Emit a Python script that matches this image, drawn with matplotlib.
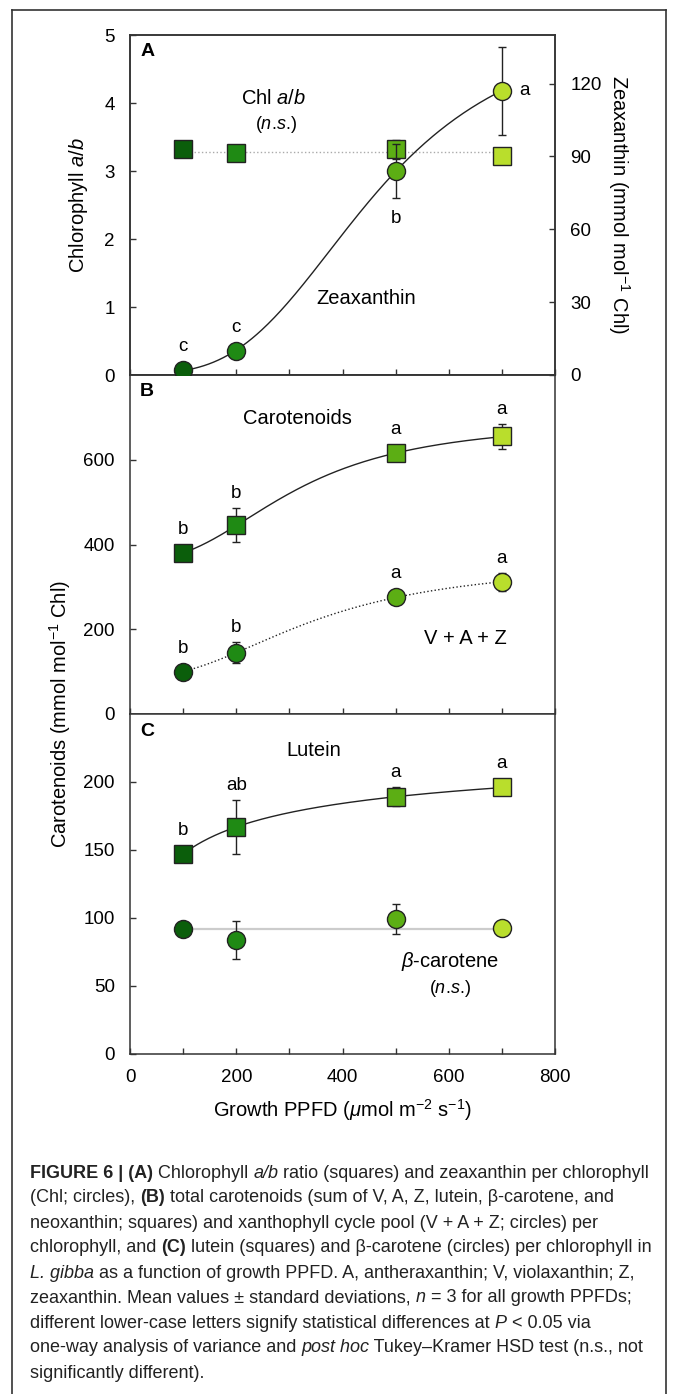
import numpy as np
import matplotlib
matplotlib.use('Agg')
import matplotlib.pyplot as plt
from matplotlib.lines import Line2D

FONT = 'Liberation Sans'
plt.rcParams['font.family'] = [FONT, 'DejaVu Sans']
plt.rcParams['mathtext.fontset'] = 'custom'
plt.rcParams['mathtext.rm'] = FONT
plt.rcParams['mathtext.it'] = FONT + ':italic'
plt.rcParams['mathtext.bf'] = FONT + ':bold'

# data
ppfd = [100, 200, 500, 700]
colors = ['#0b5e0b', '#1f8a14', '#5cae14', '#b9de2c']

chl_ab = [3.33, 3.27, 3.32, 3.22]
chl_ab_sd = [0.04, 0.04, 0.14, 0.04]
zea = [2, 10, 84, 117]
zea_sd = [1, 1.5, 11, 18]
zea_letters = ['c', 'c', 'b', 'a']

carot = [380, 445, 615, 655]
carot_sd = [8, 40, 10, 30]
carot_letters = ['b', 'b', 'a', 'a']
vaz = [100, 145, 275, 312]
vaz_sd = [6, 24, 8, 21]
vaz_letters = ['b', 'b', 'a', 'a']

lutein = [147, 167, 189, 196]
lutein_sd = [2, 20, 7, 2]
lutein_letters = ['b', 'ab', 'a', 'a']
bcar = [92, 84, 99, 93]
bcar_sd = [2, 14, 11, 2]


def hill_fit(x, y, xs):
    # 4-parameter Hill curve, grid search over shape, linear solve for the rest
    x = np.asarray(x, float)
    y = np.asarray(y, float)
    best = None
    for b in np.linspace(0.5, 8, 76):
        for c in np.linspace(50, 3000, 296):
            f = 1 / (1 + (c / x) ** b)
            A = np.column_stack([np.ones_like(x), f])
            coef = np.linalg.lstsq(A, y, rcond=None)[0]
            err = np.sum((A @ coef - y) ** 2)
            if best is None or err < best[0]:
                best = (err, b, c, coef)
    _, b, c, coef = best
    return coef[0] + coef[1] / (1 + (c / xs) ** b)


fig = plt.figure(figsize=(6.76, 13.94), dpi=100)
FW, FH = 676, 1394

def px_axes(x0, y0, x1, y1):
    return fig.add_axes([x0 / FW, 1 - y1 / FH, (x1 - x0) / FW, (y1 - y0) / FH])

axA = px_axes(130, 35, 555, 375)
axB = px_axes(130, 375, 555, 714)
axC = px_axes(130, 714, 555, 1054)

xs = np.linspace(100, 700, 200)
MS = 13
FS = 13.5
NS = r'($\mathit{n}$.$\mathit{s}$.)'

for ax in (axA, axB, axC):
    ax.set_xlim(0, 800)
    ax.set_xticks(range(0, 801, 100))
    ax.tick_params(axis='both', direction='in', length=4, width=1, labelsize=FS,
                   pad=11, color='#333333')
    for s in ax.spines.values():
        s.set_color('#333333')
        s.set_linewidth(1.1)
axA.set_xticklabels([])
axB.set_xticklabels([])
axC.set_xticklabels([str(v) if v % 200 == 0 else '' for v in range(0, 801, 100)])

axA.set_ylim(0, 5)
axA.set_yticks(range(0, 6))
axB.set_ylim(0, 800)
axB.set_yticks([0, 200, 400, 600])
axC.set_ylim(0, 250)
axC.set_yticks([0, 50, 100, 150, 200])

axZ = axA.twinx()
axZ.set_ylim(0, 140)
axZ.set_yticks([0, 30, 60, 90, 120])
axZ.tick_params(axis='y', direction='in', length=4, width=1, labelsize=FS, pad=11,
                color='#333333')
for s in axZ.spines.values():
    s.set_color('#333333')
    s.set_linewidth(1.1)


def points(ax, y, sd, marker, z=3):
    for xi, yi, ei, c in zip(ppfd, y, sd, colors):
        ax.errorbar(xi, yi, yerr=ei, fmt='none', ecolor='#222222', elinewidth=1,
                    capsize=3, capthick=1, zorder=z)
        ax.plot(xi, yi, marker=marker, ms=MS, mfc=c, mec='#222222', mew=1,
                ls='none', zorder=z + 1)


def letters(ax, y, sd, labs, where=None):
    for i, (xi, yi, ei, lab) in enumerate(zip(ppfd, y, sd, labs)):
        w = where[i] if where else 'above'
        py = ax.transData.transform((xi, yi))[1]
        pe = ax.transData.transform((xi, yi + ei))[1] - py
        if w == 'above':
            off = (max(pe, 9) + 10) * 72 / 100
            ax.annotate(lab, (xi, yi), xytext=(0, off), textcoords='offset points',
                        ha='center', va='baseline', fontsize=FS)
        elif w == 'below':
            off = -(max(pe, 9) + 25) * 72 / 100
            ax.annotate(lab, (xi, yi), xytext=(0, off), textcoords='offset points',
                        ha='center', va='baseline', fontsize=FS)
        else:
            ax.annotate(lab, (xi, yi), xytext=(16, 0), textcoords='offset points',
                        ha='center', va='center', fontsize=FS)


# panel A
axA.plot([ppfd[0], ppfd[-1]], [np.mean(chl_ab)] * 2, ls=':', lw=1, color='#aaaaaa', zorder=1)
points(axA, chl_ab, chl_ab_sd, 's')
axZ.plot(xs, hill_fit(ppfd, zea, xs), color='#222222', lw=1, zorder=2)
points(axZ, zea, zea_sd, 'o')
letters(axZ, zea, zea_sd, zea_letters, ['above', 'above', 'below', 'right'])
axA.text(271, 4.07, r'Chl $\mathit{a/b}$', ha='center', va='center', fontsize=14.5)
axA.text(274, 3.68, NS, ha='center', va='center', fontsize=13)
axA.text(444, 1.13, 'Zeaxanthin', ha='center', va='center', fontsize=14.5)
axA.set_ylabel(r'Chlorophyll $\mathit{a/b}$', fontsize=14.5, labelpad=10)
axZ.set_ylabel(r'Zeaxanthin (mmol mol$^{-1}$ Chl)', fontsize=14.5, rotation=270,
               labelpad=22)

# panel B
axB.plot(xs, hill_fit(ppfd, carot, xs), color='#222222', lw=1, zorder=2)
points(axB, carot, carot_sd, 's')
letters(axB, carot, carot_sd, carot_letters)
axB.plot(xs, hill_fit(ppfd, vaz, xs), color='#222222', lw=1, ls=':', zorder=2)
points(axB, vaz, vaz_sd, 'o')
letters(axB, vaz, vaz_sd, vaz_letters)
axB.text(315, 698, 'Carotenoids', ha='center', va='center', fontsize=14.5)
axB.text(631, 179, 'V + A + Z', ha='center', va='center', fontsize=14.5)

# panel C
axC.plot(xs, hill_fit(ppfd, lutein, xs), color='#222222', lw=1, zorder=2)
points(axC, lutein, lutein_sd, 's')
letters(axC, lutein, lutein_sd, lutein_letters)
axC.plot([ppfd[0], ppfd[-1]], [np.mean(bcar)] * 2, ls='-', lw=1.6, color='#cccccc', zorder=1)
points(axC, bcar, bcar_sd, 'o')
axC.text(346, 223, 'Lutein', ha='center', va='center', fontsize=14.5)
axC.text(603, 68, r'$\mathit{\beta}$-carotene', ha='center', va='center', fontsize=14.5)
axC.text(603, 48, NS, ha='center', va='center', fontsize=13)
axC.set_xlabel(r'Growth PPFD ($\mathit{\mu}$mol m$^{-2}$ s$^{-1}$)', fontsize=14.5, labelpad=8)

for ax, lab in zip((axA, axB, axC), 'ABC'):
    ax.text(0.024, 0.95, lab, transform=ax.transAxes, ha='left', va='center',
            fontsize=14, fontweight='bold')

fig.text(60 / FW, 1 - 714 / FH, r'Carotenoids (mmol mol$^{-1}$ Chl)', rotation=90,
         ha='center', va='center', fontsize=14.5)

# outer frame (left, top, right)
for xx, yy in (([12, 12], [0, 1384]), ([12, 666], [1384, 1384]), ([666, 666], [1384, 0])):
    fig.add_artist(Line2D([v / FW for v in xx], [v / FH for v in yy],
                          color='#333333', lw=1.2))

# caption
caption = [
    [('FIGURE 6 | (A)', 'b'), (' Chlorophyll ', 'n'), ('a/b', 'i'),
     (' ratio (squares) and zeaxanthin per chlorophyll', 'n')],
    [('(Chl; circles), ', 'n'), ('(B)', 'b'),
     (' total carotenoids (sum of V, A, Z, lutein, β-carotene, and', 'n')],
    [('neoxanthin; squares) and xanthophyll cycle pool (V + A + Z; circles) per', 'n')],
    [('chlorophyll, and ', 'n'), ('(C)', 'b'),
     (' lutein (squares) and β-carotene (circles) per chlorophyll in', 'n')],
    [('L. gibba', 'i'), (' as a function of growth PPFD. A, antheraxanthin; V, violaxanthin; Z,', 'n')],
    [('zeaxanthin. Mean values ± standard deviations, ', 'n'), ('n', 'i'),
     (' = 3 for all growth PPFDs;', 'n')],
    [('different lower-case letters signify statistical differences at ', 'n'), ('P', 'i'),
     (' < 0.05 via', 'n')],
    [('one-way analysis of variance and ', 'n'), ('post hoc', 'i'),
     (' Tukey–Kramer HSD test (n.s., not', 'n')],
    [('significantly different).', 'n')],
]
renderer = fig.canvas.get_renderer()
styles = {'n': {}, 'b': {'fontweight': 'bold'}, 'i': {'fontstyle': 'italic'}}


def draw_line(segs, y, fs, draw=True):
    x = 30
    arts = []
    for txt, st in segs:
        t = fig.text(x / FW, 1 - y / FH, txt, fontsize=fs, va='center', ha='left',
                     color='#222222', **styles[st])
        x += t.get_window_extent(renderer=renderer).width
        arts.append(t)
    if not draw:
        for t in arts:
            t.remove()
    return x - 30

# pick a caption size so the first line spans like the reference
w = draw_line(caption[0], 0, 12, draw=False)
cap_fs = 12 * 620 / w
for i, segs in enumerate(caption):
    draw_line(segs, 1173 + 25 * i, cap_fs)

fig.savefig('out.png', dpi=100)
